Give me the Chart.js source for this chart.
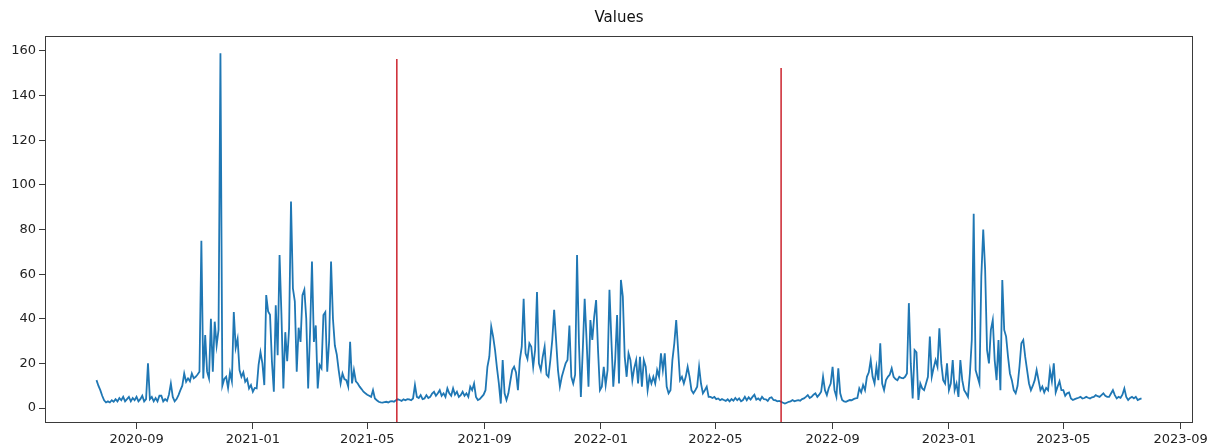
<!DOCTYPE html>
<html>
<head>
<meta charset="utf-8">
<title>Values</title>
<script src="https://cdn.jsdelivr.net/npm/chart.js@4.4.0/dist/chart.umd.min.js"></script>
<style>
  html, body { margin: 0; padding: 0; background: #ffffff; }
  #wrap { width: 1210px; height: 447px; }
</style>
</head>
<body>
<div id="wrap"><canvas id="chart" width="1210" height="447"></canvas></div>
<script>
// Daily readings, one value every second day starting at startDate
const startDate = '2020-07-21';
const stepDays = 2;
const values = [
  12.5, 10, 8, 5.5, 3.5, 2.5, 3, 2.5, 3.5, 2.8,
  4, 3, 4.5, 3.5, 5, 3, 4, 5, 3, 4.5,
  3.5, 5, 3, 4, 5.5, 3, 4, 20, 4, 5,
  3, 4.5, 3, 5.5, 5.5, 3, 4, 3.2, 6, 11,
  5, 3, 4, 5.8, 8, 10, 15.5, 11.8, 13.3, 12,
  15.5, 13.3, 14, 15, 16.3, 75, 13.3, 32.7, 16.3, 13.3,
  40, 16.3, 38.7, 28, 35, 159, 10, 13, 14, 9,
  16, 12, 43, 27, 31, 17, 14, 16, 11.8, 13,
  8.8, 10.3, 7.3, 9, 8.8, 19.3, 25, 20, 10.3, 50.6,
  43.3, 41.8, 20.8, 7.3, 46, 23.7, 68.6, 41.6, 8.8, 34,
  21, 35.7, 92.5, 53.6, 47.8, 16.3, 36, 29.6, 50.6, 53,
  40, 8.8, 34, 65.6, 29.6, 37, 8.8, 19.3, 17.8, 41.7,
  43, 16.3, 30, 65.6, 40, 28, 24, 17, 11, 15.5,
  13, 12.5, 9.6, 29.7, 11, 17, 12, 11, 9.6, 8.5,
  7.3, 6.6, 6, 5.5, 5, 8, 4.3, 3.5, 2.8, 2.5,
  2.4, 2.6, 2.8, 2.5, 3, 3.1, 2.8, 3.5, 3.9, 3.6,
  3.2, 3.9, 3.5, 4, 3.9, 3.5, 4.3, 10.3, 5, 4.5,
  5.8, 4, 4.3, 5.8, 4.5, 5, 6.5, 7.3, 5.5, 6.6,
  8, 5.5, 6.6, 5, 8.8, 6.6, 5.5, 8.8, 6, 7.3,
  5, 5.8, 7.3, 5.5, 6.6, 5, 9.6, 8, 11, 5,
  3.6, 4, 5, 6, 8, 18.5, 23, 36.5, 32, 26,
  18, 11, 2, 21.5, 6.6, 3.6, 6.6, 12, 17, 18.5,
  16, 8, 21.5, 27.5, 49, 24.5, 22, 29, 27.5, 18.5,
  26, 52, 20, 17, 23, 27.5, 15, 14, 21.5, 30.5,
  44, 30.5, 17, 9.6, 14, 17, 20, 21.5, 37, 14,
  11, 15, 68.6, 29, 5, 26, 49, 30.5, 9.6, 39.4,
  30.5, 41, 48.4, 26, 8, 9.6, 18.5, 10.3, 17, 53,
  30.5, 9.6, 21.5, 41.7, 11, 57.4, 50, 23, 14, 24.5,
  21.5, 12.5, 18, 21.5, 11, 23, 9.6, 21.5, 18.5, 8,
  14, 11, 14, 11, 17, 14, 24.5, 17, 24.5, 9.6,
  6.6, 8, 21.5, 29, 39.4, 26, 12.5, 14, 11, 14,
  18.5, 14, 8, 6.6, 8, 9.6, 18.5, 11, 6.6, 8,
  9.6, 5, 5, 4.5, 5, 4, 4.3, 3.5, 4, 3.6,
  3.2, 3.9, 3, 4, 3.3, 4.5, 3.5, 4.3, 3, 3.6,
  5, 3.5, 4.8, 3.8, 5, 6, 3.8, 4.3, 3.5, 5,
  4, 3.9, 3.2, 4.5, 4.8, 3.6, 3.5, 3, 3.2, 2.8,
  2.4, 2, 2.4, 2.8, 3, 3.6, 3, 3.3, 3.5, 3.3,
  4, 4.3, 5, 5.8, 4.5, 5, 6, 6.6, 5, 6,
  7.3, 14, 8, 5.8, 9, 11, 18.5, 8, 5, 17.8,
  6.6, 3.6, 3, 2.8, 3.2, 3.6, 3.5, 4, 4.3, 4.5,
  8.8, 7, 10.3, 8, 14, 16, 21.5, 14, 11, 18.5,
  12.5, 29, 11, 8, 12.5, 14, 15, 17.8, 14, 13,
  12.5, 14, 13.5, 13.3, 14, 15.5, 47, 20, 4.3, 26,
  25, 3.6, 11, 8.8, 8, 11, 14, 32, 14, 18,
  21.5, 18.5, 35.7, 20, 12.5, 11, 20, 8, 11, 21.5,
  8, 11, 5, 21.5, 12.5, 8, 6.6, 5, 15.5, 30.5,
  87, 17, 14, 11, 59, 80, 62, 26, 20, 35,
  39.4, 21.5, 12.5, 30.5, 8, 57.4, 35, 32, 23, 15.5,
  12.5, 8, 6.6, 10, 18.5, 29, 30.5, 23, 17, 11,
  8, 10, 12.5, 17, 12.5, 8, 9.6, 7, 9, 8,
  17, 12, 20, 7, 9.6, 12, 8, 8, 5.5, 6.6,
  7, 4.3, 3.6, 4, 4.3, 4.6, 5, 4.3, 4.5, 5,
  4.6, 4.3, 4.8, 5, 5.8, 5.3, 5, 5.8, 6.6, 5.5,
  5, 5, 6.5, 8, 5.8, 4.3, 5, 4.6, 6, 8.8,
  5, 3.6, 4.5, 5, 4.3, 5, 3.6, 4, 4.3
];

// Red vertical markers: date and height reached
const markerDates = ['2021-06-01', '2022-07-09'];
const markerTops = [156.4, 152.4];

// Axis ticks and limits
const xTickLabels = ['2020-09', '2021-01', '2021-05', '2021-09', '2022-01',
                     '2022-05', '2022-09', '2023-01', '2023-05', '2023-09'];
const yTicks = [0, 20, 40, 60, 80, 100, 120, 140, 160];
const xRange = ['2020-05-28', '2023-09-14'];
const yRange = [-6.7, 166.7];
const chartTitle = 'Values';

const DAY = 86400000;
const toMs = s => Date.parse((s.length === 7 ? s + '-01' : s) + 'T00:00:00Z');
const t0 = toMs(startDate);

const series = values.map((v, i) => ({ x: t0 + i * stepDays * DAY, y: v }));
const markerSets = markerDates.map((d, k) => ({
  data: [{ x: toMs(d), y: yRange[0] }, { x: toMs(d), y: markerTops[k] }],
  borderColor: '#c8141f',
  borderWidth: 1.4,
  pointRadius: 0,
  fill: false,
  order: 0
}));

const tickLabelByValue = {};
xTickLabels.forEach(l => { tickLabelByValue[toMs(l)] = l; });

const axisColor = '#3a3a3a';
const textColor = '#222222';
const fontFamily = "'DejaVu Sans', 'Liberation Sans', sans-serif";

// Frame round the plot area, and the title centred over it
const frameAndTitle = {
  id: 'frameAndTitle',
  afterDraw(chart) {
    const a = chart.chartArea;
    const c = chart.ctx;
    c.save();
    c.strokeStyle = axisColor;
    c.lineWidth = 1;
    c.strokeRect(Math.round(a.left) + 0.5, Math.round(a.top) + 0.5,
                 Math.round(a.right - a.left) - 1, Math.round(a.bottom - a.top) - 1);
    c.fillStyle = '#111111';
    c.font = '15px ' + fontFamily;
    c.textAlign = 'center';
    c.textBaseline = 'middle';
    c.fillText(chartTitle, (a.left + a.right) / 2, 18);
    c.restore();
  }
};

new Chart(document.getElementById('chart'), {
  type: 'line',
  data: {
    datasets: [
      {
        data: series,
        borderColor: '#1f77b4',
        borderWidth: 1.8,
        pointRadius: 0,
        tension: 0,
        fill: false,
        order: 1
      },
      ...markerSets
    ]
  },
  options: {
    responsive: false,
    animation: false,
    events: [],
    layout: { padding: { left: 0, right: 17, top: 36, bottom: 0 } },
    plugins: {
      legend: { display: false },
      tooltip: { enabled: false },
      title: { display: false }
    },
    scales: {
      x: {
        type: 'linear',
        min: toMs(xRange[0]),
        max: toMs(xRange[1]),
        afterBuildTicks: s => { s.ticks = xTickLabels.map(l => ({ value: toMs(l) })); },
        afterFit: s => { s.height = 24; s.paddingLeft = 0; s.paddingRight = 0; },
        grid: { display: true, drawOnChartArea: false, drawTicks: true, tickLength: 6, color: axisColor },
        border: { display: false },
        ticks: {
          autoSkip: false,
          maxRotation: 0,
          padding: 3,
          color: textColor,
          font: { family: fontFamily, size: 13 },
          callback: v => tickLabelByValue[v] || ''
        }
      },
      y: {
        type: 'linear',
        min: yRange[0],
        max: yRange[1],
        afterBuildTicks: s => { s.ticks = yTicks.map(v => ({ value: v })); },
        afterFit: s => { s.width = 45; s.paddingTop = 0; s.paddingBottom = 0; },
        grid: { display: true, drawOnChartArea: false, drawTicks: true, tickLength: 6, color: axisColor },
        border: { display: false },
        ticks: {
          padding: 3,
          color: textColor,
          font: { family: fontFamily, size: 13 },
          callback: v => String(v)
        }
      }
    }
  },
  plugins: [frameAndTitle]
});
</script>
</body>
</html>
